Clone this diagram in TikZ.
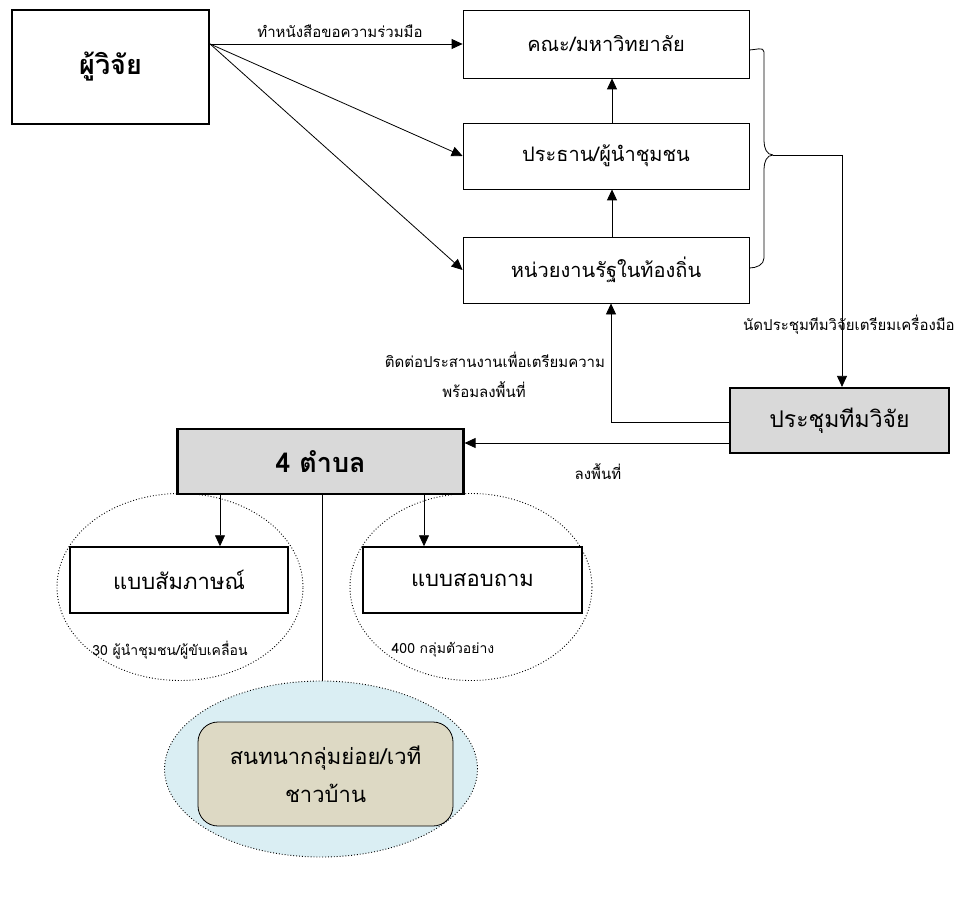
\documentclass[tikz,border=0pt]{standalone}
\usepackage{fontspec}
\setmainfont[Script=Thai]{Loma}
\usepackage{tikz}
\usetikzlibrary{arrows.meta}
\usetikzlibrary{shapes.geometric}

\definecolor{boxgray}{HTML}{D9D9D9}
\definecolor{iceblue}{HTML}{DAEEF3}
\definecolor{khaki}{HTML}{DDD9C4}

\tikzset{
  box/.style={draw, line width=0.8pt, fill=white, font=\fontsize{20}{24}\selectfont},
  bigbox/.style={draw, line width=2.2pt, font=\bfseries\fontsize{27}{30}\selectfont},
  arr/.style={-{Triangle[length=11pt, width=10pt]}, line width=0.8pt},
  lbl/.style={font=\fontsize{15}{18}\selectfont, inner sep=1pt},
  ring/.style={ellipse, draw, dotted, line width=0.9pt}
}

\begin{document}
\begin{tikzpicture}[x=1pt, y=-1pt] % 1 unit = 1 pixel of the layout
        \useasboundingbox (0,0) rectangle (959,915);
        % groups round the two tools
        \node[ring, minimum width=246pt, minimum height=187pt] (ringA) at (180,587) {};
        \node[ring, minimum width=242pt, minimum height=187pt] (ringB) at (471,587) {};
        \node[ring, fill=iceblue, minimum width=313pt, minimum height=176pt] (ringC) at (321,769) {};
        % boxes
        \node[bigbox, fill=white, minimum width=197pt, minimum height=114pt] (res) at (110.5,67) {ผู้วิจัย};
        \node[box, minimum width=286pt, minimum height=68pt] (fac) at (606,44) {คณะ/มหาวิทยาลัย};
        \node[box, minimum width=286pt, minimum height=66pt] (lead) at (606,156) {ประธาน/ผู้นำชุมชน};
        \node[box, minimum width=286pt, minimum height=66pt] (gov) at (606,270) {หน่วยงานรัฐในท้องถิ่น};
        \node[bigbox, fill=boxgray, minimum width=219pt, minimum height=65pt, font=\mdseries\fontsize{23}{26}\selectfont] (meet) at (839.5,420.5) {ประชุมทีมวิจัย};
        \node[bigbox, fill=boxgray, minimum width=286pt, minimum height=65pt] (tambon) at (320.5,461.5) {4 ตำบล};
        \node[box, line width=1.5pt, minimum width=218pt, minimum height=66pt, font=\fontsize{22}{26}\selectfont] (talk) at (179,580) {แบบสัมภาษณ์};
        \node[box, line width=1.5pt, minimum width=219pt, minimum height=66pt, font=\fontsize{22}{26}\selectfont] (quest) at (472.5,580) {แบบสอบถาม};
        \node[box, fill=khaki, rounded corners=20pt, minimum width=255pt, minimum height=104pt, align=center, font=\fontsize{22}{26}\selectfont] (forum) at (325.5,774) {สนทนากลุ่มย่อย/เวที\\[12pt]ชาวบ้าน};
        % small texts
        \node[lbl, font=\fontsize{14}{17}\selectfont] (tA) at (170,650) {30 ผู้นำชุมชน/ผู้ขับเคลื่อน};
        \node[lbl, font=\fontsize{14}{17}\selectfont] (tB) at (443,650) {400 กลุ่มตัวอย่าง};
        \node[lbl] (tAsk) at (340,31) {ทำหนังสือขอความร่วมมือ};
        \node[lbl] (tMeet) at (849,325) {นัดประชุมทีมวิจัยเตรียมเครื่องมือ};
        \node[lbl] (tPrep1) at (495,360) {ติดต่อประสานงานเพื่อเตรียมความ};
        \node[lbl] (tPrep2) at (484,390) {พร้อมลงพื้นที่};
        \node[lbl] (tGo) at (598,472) {ลงพื้นที่};
        % connectors
        \coordinate (fork) at (res.east |- fac.west);
        \draw[arr] (fork) -- (fac.west);
        \draw[arr] (fork) -- (lead.west);
        \draw[arr] (fork) -- (gov.west);
        \draw[arr] ([xshift=6pt]gov.north) -- ([xshift=6pt]lead.south);
        \draw[arr] ([xshift=6pt]lead.north) -- ([xshift=6pt]fac.south);
        % brace on the right
        \coordinate (joint) at (773,155);
        \coordinate (drop) at (842,155);
        \draw[line width=0.8pt] ([yshift=-6pt]fac.east) to[out=0, in=90] (764,52) -- (764,141)
              to[out=-90, in=180] (joint);
        \draw[line width=0.8pt] ([yshift=2pt]gov.east) to[out=0, in=-90] (764,258) -- (764,169)
              to[out=90, in=180] (joint);
        \draw[line width=0.8pt] (joint) -- (drop);
        \draw[arr] (drop) -- (drop |- meet.north);
        \draw[arr] ([yshift=-1.5pt]meet.west) -| ([xshift=5pt]gov.south);
        \coordinate (go) at ([yshift=-22.5pt]meet.west);
        \draw[arr] (go) -- (go -| tambon.east);
        \draw[arr] ([xshift=-100.5pt]tambon.south) -- ([xshift=-100.5pt]tambon.south |- talk.north);
        \draw[arr] ([xshift=103.5pt]tambon.south) -- ([xshift=103.5pt]tambon.south |- quest.north);
        \draw[line width=0.8pt] ([xshift=1.5pt]tambon.south) -- ([xshift=1.5pt]tambon.south |- ringC.north);
\end{tikzpicture}
\end{document}
